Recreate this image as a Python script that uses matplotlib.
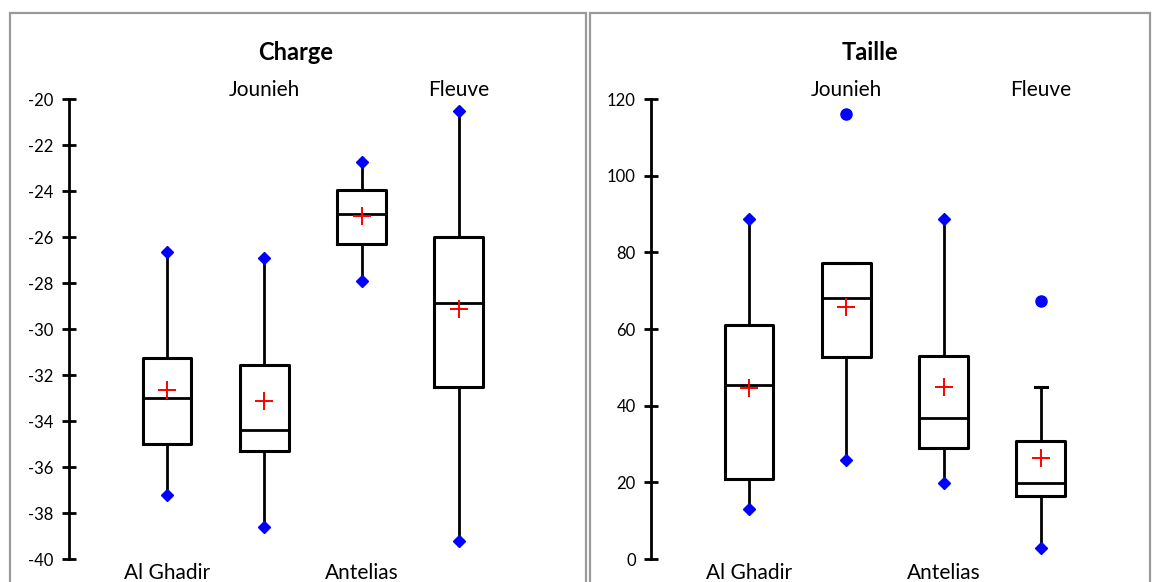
import matplotlib.pyplot as plt
from matplotlib.patches import Rectangle

plt.rcParams['font.family'] = ['Lato', 'DejaVu Sans']
plt.rcParams['axes.unicode_minus'] = False

# categories, alternating label placement (bottom / top)
sites = ["Al Ghadir", "Jounieh", "Antelias", "Fleuve"]

# Charge box statistics
charge_whislo = [-37.2, -38.6, -27.9, -39.2]
charge_q1 = [-35.0, -35.3, -26.3, -32.5]
charge_med = [-33.0, -34.4, -25.0, -28.85]
charge_q3 = [-31.25, -31.55, -23.95, -26.0]
charge_whishi = [-26.65, -26.9, -22.75, -20.5]
charge_mean = [-32.65, -33.15, -25.1, -29.15]
charge_fliers = [[], [], [], []]
charge_ticks = [-40, -38, -36, -34, -32, -30, -28, -26, -24, -22, -20]

# Taille box statistics
taille_whislo = [13.0, 25.8, 19.8, 2.9]
taille_q1 = [20.8, 52.8, 29.0, 16.4]
taille_med = [45.4, 68.1, 36.8, 19.8]
taille_q3 = [61.0, 77.3, 53.0, 30.8]
taille_whishi = [88.6, 77.3, 88.6, 44.9]
taille_mean = [44.5, 65.7, 45.0, 26.3]
taille_fliers = [[], [116.2], [], [67.4]]
taille_ticks = [0, 20, 40, 60, 80, 100, 120]

W, H = 1153, 582
fig = plt.figure(figsize=(W / 100, H / 100), dpi=100)

# panel frames
for x0, x1 in [(10, 586), (590, 1150)]:
    fig.add_artist(Rectangle((x0 / W, -0.02), (x1 - x0) / W, (H - 13) / H + 0.02,
                             transform=fig.transFigure, fill=False,
                             edgecolor='#9a9a9a', lw=1.6))


def draw_panel(left_px, title, title_x, whislo, q1, med, q3, whishi, mean, fliers, ticks):
    ax = fig.add_axes([left_px / W, 23 / H, 487 / W, 460 / H])
    pos = [1, 2, 3, 4]
    stats = []
    for i in range(4):
        stats.append(dict(whislo=whislo[i], q1=q1[i], med=med[i], q3=q3[i],
                          whishi=whishi[i], mean=mean[i], fliers=[], label=sites[i]))
    ax.bxp(stats, positions=pos, widths=0.5, showcaps=False, showfliers=False,
           showmeans=True,
           boxprops=dict(color='black', lw=2.2),
           whiskerprops=dict(color='black', lw=2),
           medianprops=dict(color='black', lw=2),
           meanprops=dict(marker='+', markersize=13, markeredgecolor='red',
                          markeredgewidth=1.4, markerfacecolor='red'))
    for i, p in enumerate(pos):
        hi_out = [v for v in fliers[i] if v > whishi[i]]
        lo_out = [v for v in fliers[i] if v < whislo[i]]
        for v, has_out in [(whishi[i], hi_out), (whislo[i], lo_out)]:
            if has_out:
                ax.plot([p - 0.06, p + 0.06], [v, v], color='black', lw=2.2)
            else:
                ax.plot(p, v, marker='D', markersize=6.5, color='blue',
                        markeredgecolor='blue', clip_on=False, zorder=5)
        if fliers[i]:
            ax.plot([p] * len(fliers[i]), fliers[i], 'o', color='blue',
                    markersize=8, clip_on=False, zorder=5)

    ax.set_xlim(-0.01, 5.0)
    ax.set_ylim(ticks[0], ticks[-1])
    ax.set_yticks(ticks)
    ax.set_xticks([])
    for s in ['top', 'right', 'bottom']:
        ax.spines[s].set_visible(False)
    ax.spines['left'].set_linewidth(2)
    ax.tick_params(axis='y', direction='inout', length=10, width=2,
                   labelsize=12, pad=6)
    ax.patch.set_alpha(0)

    tr = ax.get_xaxis_transform()
    for i, p in enumerate(pos):
        if i % 2 == 0:
            ax.text(p, -0.03, sites[i], transform=tr, ha='center', va='center',
                    fontsize=15, clip_on=False)
        else:
            ax.text(p, 1.02, sites[i], transform=tr, ha='center', va='center',
                    fontsize=15, clip_on=False)
    fig.text(title_x / W, 1 - 52 / H, title, ha='center', va='center',
             fontsize=17, fontweight='bold')
    return ax


draw_panel(69, "Charge", 296, charge_whislo, charge_q1, charge_med, charge_q3,
           charge_whishi, charge_mean, charge_fliers, charge_ticks)
draw_panel(651, "Taille", 870, taille_whislo, taille_q1, taille_med, taille_q3,
           taille_whishi, taille_mean, taille_fliers, taille_ticks)

fig.savefig("out.png", dpi=100)
